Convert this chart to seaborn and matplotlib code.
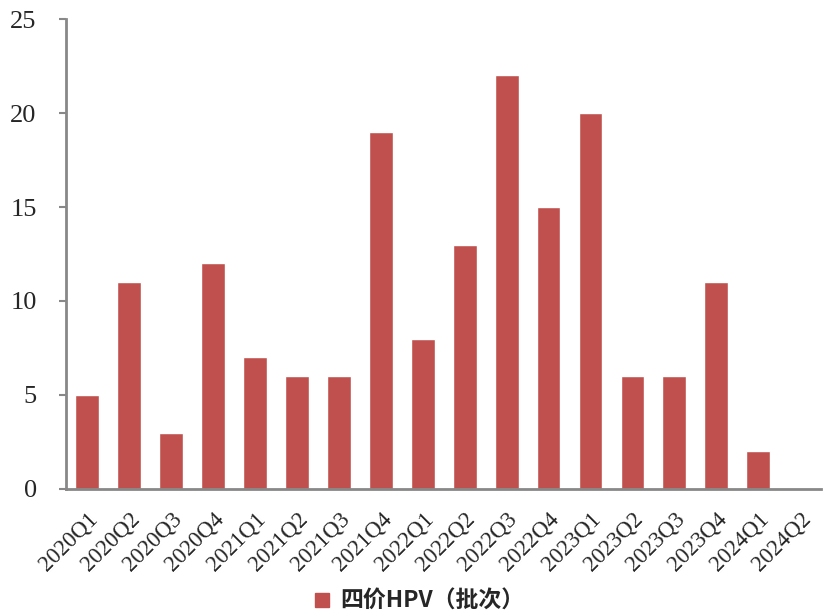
import matplotlib
matplotlib.use("Agg")
import matplotlib.pyplot as plt
import seaborn as sns
import pandas as pd
from matplotlib.patches import Patch

categories = ["2020Q1","2020Q2","2020Q3","2020Q4","2021Q1","2021Q2","2021Q3","2021Q4",
              "2022Q1","2022Q2","2022Q3","2022Q4","2023Q1","2023Q2","2023Q3","2023Q4",
              "2024Q1","2024Q2"]
values = [5, 11, 3, 12, 7, 6, 6, 19, 8, 13, 22, 15, 20, 6, 6, 11, 2, 0]
series_name = "四价HPV（批次）"
yticks = [0, 5, 10, 15, 20, 25]

sns.set_theme(style="white")
plt.rcParams['font.family'] = ['Liberation Serif', 'Noto Sans CJK SC']

df = pd.DataFrame({"q": categories, "v": values})
fig = plt.figure(figsize=(8.23, 6.15), dpi=100)
ax = fig.add_axes([0.080, 0.205, 0.918, 0.764])
sns.barplot(data=df, x="q", y="v", color="#C0504D", width=0.57, ax=ax, saturation=1)
ax.set_ylim(0, 25)
ax.set_xlim(-0.5, len(categories) - 0.5)
ax.set_yticks(yticks)
ax.set_yticklabels([str(t) for t in yticks], fontsize=19, family="Liberation Serif")
ax.set_xlabel("")
ax.set_ylabel("")
ax.set_xticks(range(len(categories)))
ax.set_xticklabels(categories, family="Liberation Serif", fontsize=16.5,
                   rotation=45, ha="right", rotation_mode="anchor")
ax.tick_params(axis="x", length=0, pad=14)
ax.tick_params(axis="y", length=5, width=1.5, color="#888888", direction="out", pad=16, left=True)
for s in ["top", "right"]:
    ax.spines[s].set_visible(False)
for s in ["left", "bottom"]:
    ax.spines[s].set_color("#888888")
    ax.spines[s].set_linewidth(2)

fig.legend(handles=[Patch(color="#C0504D", label=series_name)],
           loc="center", bbox_to_anchor=(0.51, 0.022), frameon=False,
           handlelength=0.6, handleheight=0.6, handletextpad=0.5,
           prop={"family": ["Noto Sans CJK SC"], "weight": "bold", "size": 16.5})
fig.savefig("out.png", dpi=100)
